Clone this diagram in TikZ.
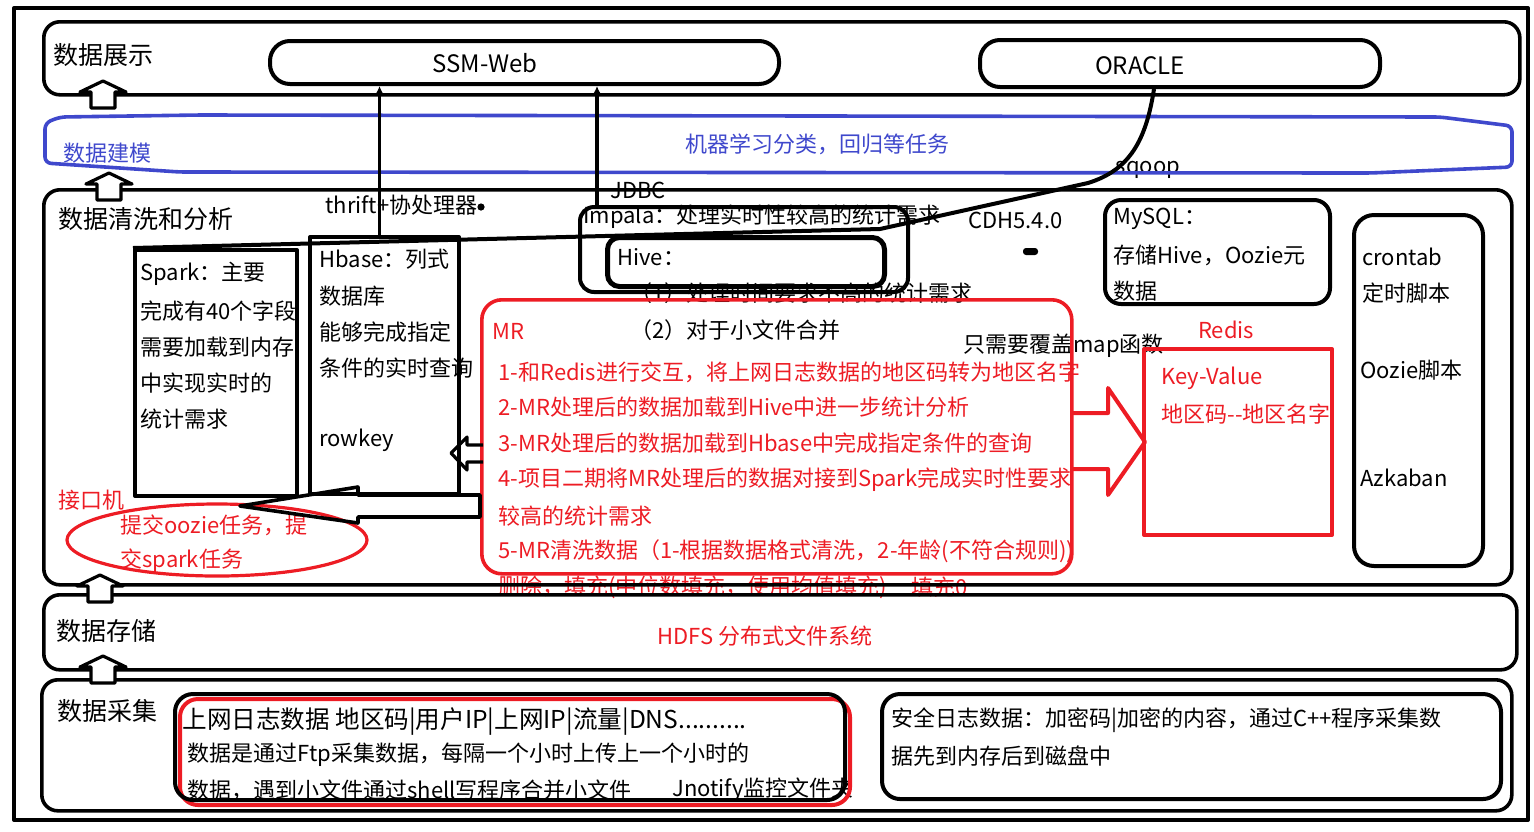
\documentclass[tikz,border=0pt]{standalone}
\usepackage{fontspec}
\setmainfont{Noto Sans CJK SC}
\usetikzlibrary{arrows.meta}
\definecolor{hongse}{RGB}{237,28,36}
\definecolor{lanse}{RGB}{63,72,204}

\begin{document}
\begin{tikzpicture}[
    x=0.5pt, y=-0.5pt,
    line join=round,
    every node/.style={font=\fontsize{11}{13}\selectfont, inner sep=0pt},
    wenzi/.style={anchor=west},
    biaoti/.style={anchor=west, font=\fontsize{12.5}{15}\selectfont},
    hongzi/.style={anchor=west, text=hongse},
    ceng/.style={draw, line width=1.8pt, rounded corners=8pt, anchor=north west},
    kuang/.style={draw, line width=2pt, anchor=north west},
    yuankuang/.style={kuang, rounded corners=7pt},
    hongkuang/.style={draw=hongse, line width=2pt, anchor=north west},
    lianxian/.style={line width=1.6pt, -{Latex[length=4pt,width=4pt]}},
    pics/shangjian/.style={
        code={
            \filldraw[fill=white, line width=1.6pt] (0,0) -- (23,11) -- (12,11) -- (12,27)
                -- (-12,27) -- (-12,11) -- (-23,11) -- cycle;
        }
    }
]
\useasboundingbox (0,0) rectangle (1534,831);

% 数据展示
\node[biaoti] (t-zhanshi) at (53,55) {数据展示};
\node[font=\fontsize{12}{14}\selectfont] (t-ssm) at (485,63) {SSM-Web};
\node[font=\fontsize{12}{14}\selectfont] (t-oracle) at (1140,66) {ORACLE};

% 数据建模
\node[wenzi, text=lanse] (t-jianmo) at (63,153) {数据建模};
\node[text=lanse] (t-jiqi) at (817,144) {机器学习分类，回归等任务};
\node (t-sqoop) at (1148,170) {sqoop};

% 数据清洗和分析
\node[biaoti] (t-qingxi) at (58,219) {数据清洗和分析};
\node[wenzi] (t-thrift) at (325,205) {thrift+协处理器};
\node[wenzi] (t-jdbc) at (610,190) {JDBC};
\node[wenzi] (t-impala) at (583,217) {Impala：处理实时性较高的统计需求};
\node[wenzi] (t-hive) at (617,257) {Hive：};
\node[wenzi] (t-cdh) at (968,220) {CDH5.4.0};
\node[wenzi] (t-hive1) at (630,293) {（1）处理时间要求不高的统计需求};
\node[wenzi] (t-hive2) at (630,330) {（2）对于小文件合并};

\node[wenzi] (t-mysql1) at (1113,219) {MySQL：};
\node[wenzi] (t-mysql2) at (1113,255) {存储Hive，Oozie元};
\node[wenzi] (t-mysql3) at (1113,291) {数据};

\node[wenzi] (t-cron1) at (1362,257) {crontab};
\node[wenzi] (t-cron2) at (1362,293) {定时脚本};
\node[wenzi] (t-oozie) at (1360,370) {Oozie脚本};
\node[wenzi] (t-azkaban) at (1360,478) {Azkaban};

\node[wenzi] (t-spark1) at (140,274) {Spark：主要};
\node[wenzi] (t-spark2) at (140,311) {完成有40个字段};
\node[wenzi] (t-spark3) at (140,347) {需要加载到内存};
\node[wenzi] (t-spark4) at (140,383) {中实现实时的};
\node[wenzi] (t-spark5) at (140,419) {统计需求};

\node[wenzi] (t-hbase1) at (319,259) {Hbase：列式};
\node[wenzi] (t-hbase2) at (319,296) {数据库};
\node[wenzi] (t-hbase3) at (319,332) {能够完成指定};
\node[wenzi] (t-hbase4) at (319,368) {条件的实时查询};
\node[wenzi] (t-rowkey) at (319,440) {rowkey};

\node[hongzi] (t-mr) at (492,331) {MR};
\node[hongzi] (t-mr1) at (498,372) {1-和Redis进行交互，将上网日志数据的地区码转为地区名字};
\node[hongzi] (t-mr2) at (498,407) {2-MR处理后的数据加载到Hive中进一步统计分析};
\node[hongzi] (t-mr3) at (498,443) {3-MR处理后的数据加载到Hbase中完成指定条件的查询};
\node[hongzi] (t-mr4) at (498,480) {4-项目二期将MR处理后的数据对接到Spark完成实时性要求};
\node[hongzi] (t-mr4b) at (498,516) {较高的统计需求};
\node[hongzi] (t-mr5) at (498,551) {5-MR清洗数据（1-根据数据格式清洗，2-年龄(不符合规则))};
\node[hongzi] (t-mr5b) at (498,587) {删除，填充(中位数填充，使用均值填充)};
\node[hongzi] (t-mr5c) at (911,587) {填充0};

\node[wenzi] (t-map) at (963,346) {只需要覆盖map函数};
\node[text=hongse] (t-redis) at (1226,330) {Redis};
\node[hongzi] (t-kv) at (1161,378) {Key-Value};
\node[hongzi] (t-diqu) at (1161,414) {地区码-{}-地区名字};

\node[hongzi] (t-jiekou) at (58,500) {接口机};
\node[hongzi] (t-tijiao1) at (120,525) {提交oozie任务，提};
\node[hongzi] (t-tijiao2) at (120,561) {交spark任务};

% 数据存储
\node[biaoti] (t-cunchu) at (56,631) {数据存储};
\node[text=hongse] (t-hdfs) at (765,636) {HDFS 分布式文件系统};

% 数据采集
\node[biaoti] (t-caiji) at (57,711) {数据采集};
\node[wenzi, font=\fontsize{12.3}{14}\selectfont] (t-rizhi1) at (182,722) {上网日志数据 地区码|用户IP|上网IP|流量|DNS..........};
\node[wenzi] (t-rizhi2) at (187,755) {数据是通过Ftp采集数据，每隔一个小时上传上一个小时的};
\begin{scope}
    \clip (170,690) rectangle (860,797);
    \node[wenzi] (t-rizhi3) at (187,790) {数据，遇到小文件通过shell写程序合并小文件};
    \node[wenzi] (t-jnotify) at (672,790) {Jnotify监控文件夹};
\end{scope}
\node[wenzi] (t-anquan1) at (891,720) {安全日志数据：加密码|加密的内容，通过C++程序采集数};
\node[wenzi] (t-anquan2) at (891,756) {据先到内存后到磁盘中};

% 各层的框
\draw[line width=2pt] (14,8) rectangle (1528,820);
\node[ceng, minimum width=738pt, minimum height=36.5pt] (zhanshi) at (42,20) {};
\node[ceng, minimum width=734pt, minimum height=197.5pt] (qingxi) at (42,188) {};
\node[ceng, minimum width=736.5pt, minimum height=37.5pt] (cunchu) at (42,593) {};
\node[ceng, minimum width=735pt, minimum height=65.5pt] (caiji) at (40,678) {};

\draw[lanse, line width=1.8pt, rounded corners=3pt] (60,117) -- (200,115) -- (1440,117)
    -- (1512,126) -- (1512,167) -- (1370,173) -- (180,172) -- (45,163) -- (45,123) -- cycle;

\node[yuankuang, rounded corners=10pt, minimum width=254.5pt, minimum height=21.5pt] (ssm) at (268,39) {};
\node[yuankuang, rounded corners=10pt, minimum width=200pt, minimum height=23.5pt] (oracle) at (978,38) {};

\node[kuang, minimum width=81pt, minimum height=123pt] (spark) at (133,248) {};
\node[kuang, minimum width=74.5pt, minimum height=128.5pt] (hbase) at (308,235) {};
\node[yuankuang, minimum width=164pt, minimum height=42.5pt] (impala) at (578,205) {};
\node[yuankuang, line width=2.5pt, rounded corners=6pt, minimum width=138.5pt, minimum height=24.5pt] (hive) at (605,235) {};
\node[yuankuang, rounded corners=8pt, minimum width=112.5pt, minimum height=52pt] (mysql) at (1103,198) {};
\node[yuankuang, rounded corners=10pt, minimum width=64.5pt, minimum height=175.5pt] (diaodu) at (1352,213) {};
\node[hongkuang, minimum width=94pt, minimum height=93pt] (redis) at (1142,347) {};
\node[hongkuang, line width=1.8pt, rounded corners=10pt, minimum width=295pt, minimum height=137pt] (mr) at (480,298) {};

\node[hongkuang, rounded corners=9pt, minimum width=335pt, minimum height=53pt] (rizhi-hong) at (178,697) {};
\node[yuankuang, rounded corners=9pt, minimum width=335pt, minimum height=53pt] (rizhi) at (173,692) {};
\node[yuankuang, rounded corners=9pt, minimum width=309.5pt, minimum height=52.5pt] (anquan) at (880,692) {};

\draw[hongse, line width=1.6pt] (217,540) ellipse [x radius=75pt, y radius=18pt];

% 连线
\draw[lianxian] ([xshift=-2.5pt]hbase.north) -- ([xshift=-2.5pt]hbase.north |- ssm.south);
\draw[lianxian] ([xshift=9.5pt]impala.north west) -- ([xshift=9.5pt]impala.north west |- ssm.south);
\fill (481,207) circle[radius=1.8pt];

\coordinate (guaidian) at (1088,183);
\draw[line width=2pt] ([xshift=-13pt]oracle.south) .. controls (1146,140) and (1130,170) .. (guaidian)
    -- (880,229) -- (spark.north west);
\fill[rounded corners=1.5pt] (1023,248) rectangle (1038,255);

% 空心箭头
\draw[line width=1.8pt] (358,487) -- (240,506) -- (358,523) -- (358,517) -- (480,517) -- (480,495) -- (358,495) -- cycle;
\draw[line width=1.6pt] (483,445) -- (467,445) -- (467,437) -- (451,453) -- (467,470) -- (467,462) -- (483,462);
\draw[hongse, line width=2pt] (1070,413) -- (1108,413) -- (1108,388) -- (1145,442) -- (1108,495) -- (1108,469) -- (1070,469);

\pic at (103,81) {shangjian};
\pic at (109,173) {shangjian};
\pic at (100,575) {shangjian};
\pic at (103,656) {shangjian};

\end{tikzpicture}
\end{document}
